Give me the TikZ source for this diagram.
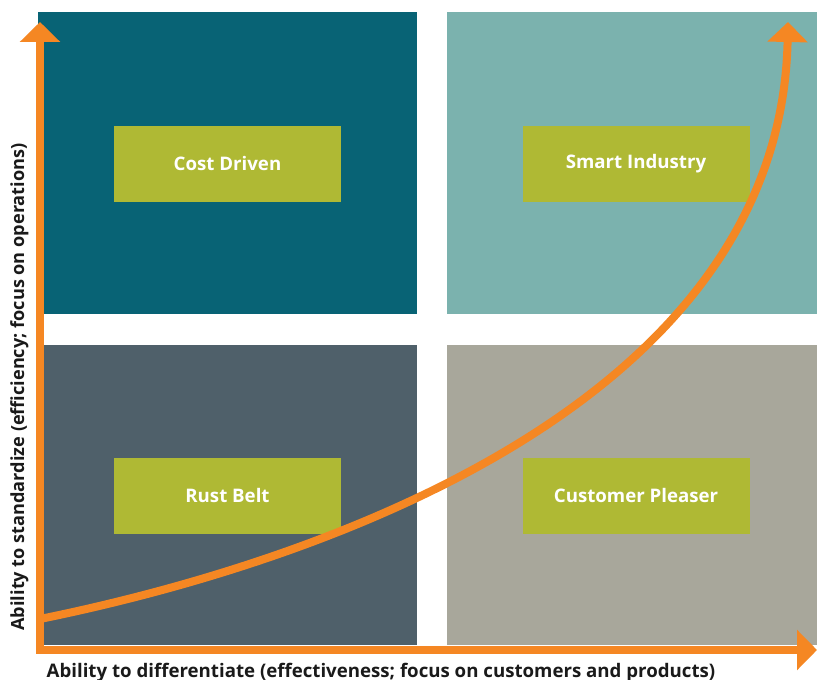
\documentclass[tikz,border=0pt]{standalone}
\usepackage{fontspec}
\setmainfont{Open Sans}
\usetikzlibrary{arrows.meta}
\definecolor{qTL}{HTML}{086375}
\definecolor{qTR}{HTML}{7BB2AE}
\definecolor{qBL}{HTML}{4F606A}
\definecolor{qBR}{HTML}{A8A79B}
\definecolor{olive}{HTML}{AFB934}
\definecolor{axisorange}{HTML}{F58723}
\definecolor{labeltext}{HTML}{1A1A1A}
\tikzset{
  quad/.style={draw=none, inner sep=0pt, minimum height=#1},
  tag/.style={fill=olive, text=white, inner sep=0pt, minimum width=227*0.75pt, minimum height=76*0.75pt, font=\bfseries\fontsize{14pt}{16pt}\selectfont},
  axislabel/.style={text=labeltext, inner sep=0pt, font=\bfseries\fontsize{#1}{15pt}\selectfont},
  axisline/.style={draw=axisorange, line width=6pt, line join=miter},
  growth/.style={draw=axisorange, line width=6pt},
  bigtri/.tip={Triangle[width=29.5pt, length=15pt]}
}
\begin{document}
\begin{tikzpicture}[x=0.75pt, y=-0.75pt]
\useasboundingbox (0,0) rectangle (817,680);
% quadrants
\node[quad=302*0.75pt, fill=qTL, minimum width=379*0.75pt] (tl) at (227.5,163) {};
\node[quad=302*0.75pt, fill=qTR, minimum width=370*0.75pt] (tr) at (632,163) {};
\node[quad=300*0.75pt, fill=qBL, minimum width=379*0.75pt] (bl) at (227.5,495) {};
\node[quad=300*0.75pt, fill=qBR, minimum width=370*0.75pt] (br) at (632,495) {};
% labels
\node[tag] (cost) at (227.5,164) {Cost Driven};
\node[tag] (smart) at (636,164) {Smart Industry};
\node[tag] (rust) at (227.5,496) {Rust Belt};
\node[tag] (pleaser) at (636,496) {Customer Pleaser};
% growth curve
\coordinate (cstart) at (40,619);
\coordinate (cend) at (788,22);
\draw[growth, -{bigtri}] (cstart) .. controls (330,560) and (780,400) .. (cend);
% axes
\coordinate (ytip) at (40,22);
\coordinate (origin) at (40,650);
\coordinate (xtip) at (817,650);
\draw[axisline, {bigtri}-{bigtri}] (ytip) -- (origin) -- (xtip);
% axis labels
\node[axislabel=14pt, anchor=base] (xlab) at (381,677) {Ability to differentiate (effectiveness; focus on customers and products)};
\node[axislabel=13.6pt, anchor=base, rotate=90] (ylab) at (24,387) {Ability to standardize (efficiency; focus on operations)};
\end{tikzpicture}
\end{document}
